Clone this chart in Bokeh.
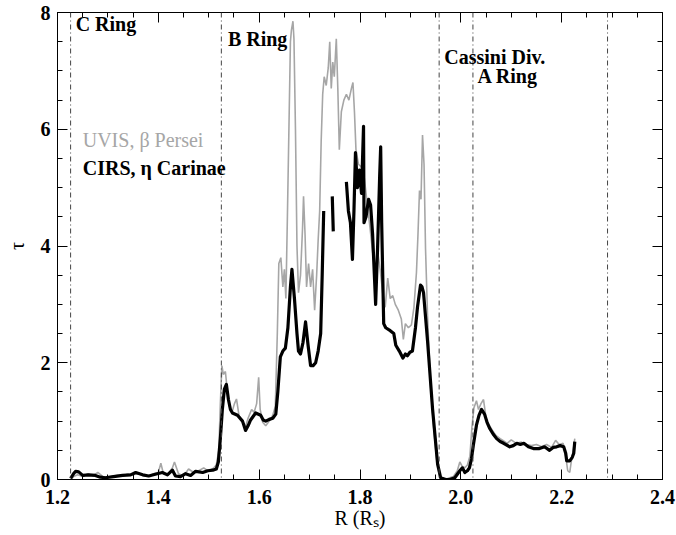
from bokeh.plotting import figure
from bokeh.models import (Range1d, LinearAxis, FixedTicker, Span, Label,
                          CustomJSTickFormatter)
from bokeh.embed import file_html
from bokeh.resources import INLINE

nan = float("nan")

# ---------------- data ----------------
# UVIS, beta Persei occultation (grey)
uvis_r = [1.226, 1.232, 1.240, 1.250, 1.260, 1.270, 1.280, 1.290, 1.300, 1.310, 1.320,
          1.330, 1.340, 1.350, 1.360, 1.370, 1.380, 1.390, 1.400, 1.405, 1.410, 1.420,
          1.428, 1.432, 1.440, 1.450, 1.460, 1.470, 1.480, 1.490, 1.500, 1.510, 1.515,
          1.520, 1.523, 1.526, 1.529, 1.533, 1.537, 1.541, 1.546, 1.551, 1.555, 1.560,
          1.566, 1.572, 1.578, 1.585, 1.590, 1.595, 1.599, 1.602, 1.607, 1.613, 1.620,
          1.627, 1.632, 1.636, 1.639, 1.643, 1.647, 1.650, 1.653, 1.656, 1.659, 1.662,
          1.664, 1.667, 1.669, 1.672, 1.675, 1.678, 1.682, 1.686, 1.688, 1.691, 1.694,
          1.698, 1.702, 1.706, 1.710, 1.714, 1.717, 1.720, 1.723, 1.726, 1.729, 1.733,
          1.737, 1.740, 1.743, 1.746, 1.749, 1.753, 1.756, 1.759, 1.763, 1.768, 1.773,
          1.778, 1.783, 1.786, 1.789, 1.792, 1.797, 1.803, 1.808, 1.812, 1.816, 1.820,
          1.825, 1.830, 1.835, 1.840, 1.845, 1.850, 1.855, 1.860, 1.865, 1.870, 1.876,
          1.882, 1.886, 1.890, 1.896, 1.902, 1.907, 1.912, 1.915, 1.918, 1.921, 1.924,
          1.927, 1.930, 1.934, 1.940, 1.946, 1.952, 1.958, 1.965, 1.975, 1.985, 1.993,
          1.998, 2.003, 2.008, 2.013, 2.018, 2.022, 2.026, 2.031, 2.035, 2.040, 2.045,
          2.050, 2.055, 2.062, 2.070, 2.078, 2.085, 2.092, 2.100, 2.110, 2.120, 2.130,
          2.140, 2.150, 2.160, 2.170, 2.180, 2.188, 2.195, 2.203, 2.208, 2.212, 2.216,
          2.219, 2.223, 2.226]
uvis_tau = [0.00, 0.05, 0.08, 0.05, 0.10, 0.06, 0.12, 0.05, 0.04, 0.06, 0.07,
            0.06, 0.10, 0.08, 0.10, 0.07, 0.05, 0.10, 0.12, 0.28, 0.10, 0.10,
            0.20, 0.30, 0.10, 0.06, 0.18, 0.12, 0.15, 0.20, 0.14, 0.20, 0.25,
            0.50, 1.30, 1.95, 1.80, 1.85, 1.50, 1.25, 1.15, 1.30, 1.38, 1.10,
            1.00, 0.88, 1.05, 1.20, 1.15, 1.30, 1.75, 1.20, 0.98, 0.92, 1.00,
            1.10, 1.25, 2.50, 3.70, 3.80, 3.30, 3.60, 3.10, 4.50, 6.00, 7.50,
            7.70, 7.85, 7.55, 6.00, 4.00, 3.20, 3.50, 4.30, 4.85, 4.20, 3.30,
            3.70, 3.30, 3.60, 2.90, 3.50, 4.10, 4.60, 5.80, 6.60, 6.90, 6.75,
            7.05, 7.50, 6.70, 7.15, 6.90, 7.55, 6.70, 5.65, 6.30, 6.50, 6.60,
            6.50, 6.70, 6.80, 6.30, 5.65, 5.40, 5.35, 5.20, 4.90, 4.60, 4.30,
            3.90, 3.50, 3.90, 3.60, 3.20, 2.95, 3.45, 3.10, 3.15, 3.00, 2.90,
            2.75, 2.40, 2.67, 2.60, 2.65, 2.95, 3.55, 4.20, 4.95, 4.80, 5.90,
            5.40, 3.95, 2.80, 1.60, 0.90, 0.35, 0.05, 0.00, 0.02, 0.05, 0.15,
            0.30, 0.22, 0.20, 0.25, 0.40, 0.90, 1.23, 1.35, 1.20, 1.30, 1.37,
            1.05, 0.95, 0.85, 0.75, 0.70, 0.66, 0.62, 0.68, 0.62, 0.64, 0.60,
            0.58, 0.60, 0.56, 0.60, 0.55, 0.67, 0.60, 0.62, 0.40, 0.15, 0.12,
            0.30, 0.50, 0.70]

# CIRS, eta Carinae occultation (black); nan marks gaps in the data
cirs_r = [1.226, 1.232, 1.236, 1.242, 1.250, 1.262, 1.275, 1.285, 1.295, 1.311, 1.329,
          1.345, 1.355, 1.369, 1.381, 1.394, 1.408, 1.418, 1.428, 1.434, 1.444, 1.454,
          1.464, 1.474, 1.488, 1.498, 1.508, 1.515, 1.519, 1.523, 1.527, 1.531, 1.535,
          1.539, 1.543, 1.547, 1.557, 1.567, 1.573, 1.578, 1.583, 1.593, 1.603, 1.608,
          1.613, 1.620, 1.627, 1.633, 1.637, 1.642, 1.647, 1.652, 1.657, 1.662, 1.665,
          1.670, 1.675, 1.678, 1.682, 1.687, 1.692, 1.697, 1.702, 1.707, 1.712, 1.717,
          1.722, 1.725, 1.728,
          nan,
          1.745, 1.747,
          nan,
          1.773, 1.777, 1.781, 1.785, 1.788, 1.791, 1.795, 1.799, 1.803, 1.807, 1.808,
          1.812, 1.817, 1.821, 1.825, 1.829, 1.831, 1.835, 1.839, 1.841, 1.843, 1.847,
          1.851, 1.860, 1.867, 1.871, 1.878, 1.885, 1.890, 1.894, 1.899, 1.904, 1.910,
          1.914, 1.920, 1.923, 1.926, 1.934, 1.944, 1.954, 1.960, 1.970, 1.978, 1.988,
          1.998, 2.003, 2.008, 2.013, 2.017, 2.021, 2.025, 2.031, 2.036, 2.041, 2.047,
          2.052, 2.057, 2.064, 2.071, 2.078, 2.085, 2.097, 2.104, 2.111, 2.118, 2.125,
          2.134, 2.144, 2.156, 2.166, 2.176, 2.183, 2.190, 2.197, 2.204, 2.208, 2.210,
          2.216, 2.221, 2.224, 2.226]
cirs_tau = [0.02, 0.10, 0.14, 0.13, 0.07, 0.08, 0.07, 0.04, 0.03, 0.05, 0.07,
            0.08, 0.12, 0.08, 0.06, 0.09, 0.12, 0.08, 0.16, 0.06, 0.05, 0.10,
            0.07, 0.14, 0.12, 0.15, 0.16, 0.18, 0.30, 0.70, 1.20, 1.55, 1.63,
            1.37, 1.20, 1.14, 1.10, 1.00, 0.84, 0.92, 1.02, 1.14, 1.10, 1.02,
            1.00, 1.03, 1.05, 1.12, 1.50, 2.10, 2.20, 2.25, 2.60, 3.30, 3.60,
            3.10, 2.50, 2.20, 2.15, 2.35, 2.70, 2.30, 1.95, 1.95, 2.00, 2.20,
            2.50, 3.50, 4.60,
            nan,
            4.85, 4.25,
            nan,
            5.10, 4.60, 4.40, 3.77, 4.60, 5.60, 5.00, 5.30, 4.90, 6.05, 4.40,
            4.50, 4.80, 4.70, 4.20, 3.40, 3.00, 4.00, 5.20, 5.70, 4.40, 2.67,
            2.60, 2.55, 2.50, 2.30, 2.20, 2.08, 2.15, 2.12, 2.18, 2.20, 2.60,
            2.95, 3.33, 3.30, 3.20, 2.37, 1.20, 0.26, 0.03, 0.00, 0.00, 0.03,
            0.15, 0.20, 0.12, 0.15, 0.20, 0.35, 0.60, 0.93, 1.10, 1.20, 1.12,
            0.98, 0.88, 0.78, 0.70, 0.65, 0.62, 0.56, 0.58, 0.62, 0.60, 0.62,
            0.56, 0.53, 0.53, 0.56, 0.50, 0.55, 0.56, 0.58, 0.56, 0.45, 0.32,
            0.32, 0.38, 0.45, 0.65]

# ring boundaries (R_S) and their labels
ring_edges = [1.226, 1.525, 1.957, 2.024, 2.291]
ring_labels = ["C Ring", "B Ring", "Cassini Div.", "A Ring"]
ring_label_r = [1.236, 1.538, 1.967, 2.033]
ring_label_tau = [7.80, 7.54, 7.23, 6.92]

series_names = ["UVIS, \u03b2 Persei", "CIRS, \u03b7 Carinae"]

# tick positions
x_major = [1.2, 1.4, 1.6, 1.8, 2.0, 2.2, 2.4]
x_minor = [1.2, 1.25, 1.3, 1.35, 1.4, 1.45, 1.5, 1.55, 1.6, 1.65, 1.7, 1.75, 1.8,
           1.85, 1.9, 1.95, 2.0, 2.05, 2.1, 2.15, 2.2, 2.25, 2.3, 2.35, 2.4]
y_major = [0, 2, 4, 6, 8]
y_minor = [0, 0.5, 1, 1.5, 2, 2.5, 3, 3.5, 4, 4.5, 5, 5.5, 6, 6.5, 7, 7.5, 8]

# ---------------- figure ----------------
FONT = "Liberation Serif"

p = figure(width=676, height=535, output_backend="svg", toolbar_location=None,
           x_range=Range1d(1.2, 2.4), y_range=Range1d(0, 8),
           min_border_left=57, min_border_right=14, min_border_top=12,
           min_border_bottom=56, x_axis_location=None, y_axis_location=None)
p.background_fill_color = "white"
p.border_fill_color = "white"
p.outline_line_color = "black"
p.outline_line_width = 1
p.xgrid.visible = False
p.ygrid.visible = False

blank = CustomJSTickFormatter(code="return ''")


def style(ax, labels=True):
    ax.major_tick_in = 10
    ax.major_tick_out = 0
    ax.minor_tick_in = 5
    ax.minor_tick_out = 0
    ax.axis_line_color = "black"
    ax.major_tick_line_color = "black"
    ax.minor_tick_line_color = "black"
    ax.major_label_text_font = FONT
    ax.major_label_text_font_style = "bold"
    ax.major_label_text_font_size = "20px" if labels else "0px"
    ax.major_label_text_color = "black"
    ax.axis_label_text_font = FONT
    ax.axis_label_text_font_style = "normal"
    ax.axis_label_text_font_size = "20px"
    ax.axis_label_text_color = "black"


def xticker():
    return FixedTicker(ticks=x_major, minor_ticks=x_minor)


def yticker():
    return FixedTicker(ticks=y_major, minor_ticks=y_minor)


bottom = LinearAxis(ticker=xticker(), axis_label="R (R\u209b)")
style(bottom)
bottom.major_label_standoff = 10
bottom.axis_label_standoff = 0
bottom.formatter = CustomJSTickFormatter(code="return tick.toFixed(1)")
p.add_layout(bottom, "below")

left = LinearAxis(ticker=yticker(), axis_label="\u03c4")
style(left)
left.major_label_standoff = 7
left.axis_label_standoff = 10
p.add_layout(left, "left")

top = LinearAxis(ticker=xticker(), formatter=blank, major_label_standoff=0)
style(top, labels=False)
p.add_layout(top, "above")

right = LinearAxis(ticker=yticker(), formatter=blank, major_label_standoff=0)
style(right, labels=False)
p.add_layout(right, "right")

# ring boundary lines
for r in ring_edges:
    p.add_layout(Span(location=r, dimension="height", line_color="#444444",
                      line_width=1, line_dash="5 3 1 3"))

# data curves
p.line(x=uvis_r, y=uvis_tau, line_color="#a6a6a6", line_width=1.6)
p.line(x=cirs_r, y=cirs_tau, line_color="black", line_width=3.2, line_join="round")

# ring labels
for txt, rx, ty in zip(ring_labels, ring_label_r, ring_label_tau):
    p.add_layout(Label(x=rx, y=ty, text=txt, text_font=FONT, text_font_size="20px",
                       text_font_style="bold", text_color="black",
                       text_baseline="alphabetic"))

# series labels
p.add_layout(Label(x=1.250, y=5.82, text=series_names[0], text_font=FONT,
                   text_font_size="20px", text_color="#a6a6a6",
                   text_baseline="alphabetic"))
p.add_layout(Label(x=1.250, y=5.34, text=series_names[1], text_font=FONT,
                   text_font_size="20px", text_font_style="bold", text_color="black",
                   text_baseline="alphabetic"))

open("out.html", "w").write(file_html(p, INLINE))
